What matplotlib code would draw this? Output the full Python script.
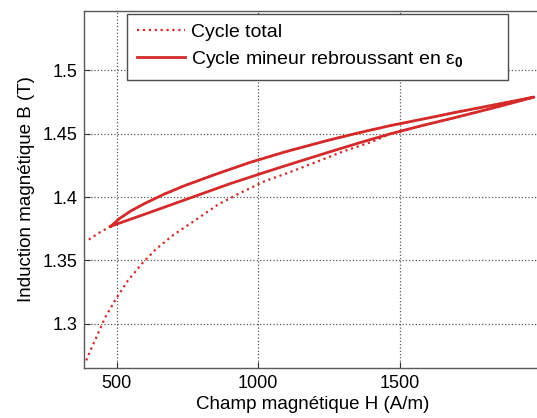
import numpy as np
import matplotlib.pyplot as plt

plt.rcParams['font.family'] = ['Liberation Sans', 'DejaVu Sans']
plt.rcParams['mathtext.fontset'] = 'custom'
plt.rcParams['mathtext.rm'] = 'Liberation Sans'
plt.rcParams['mathtext.it'] = 'Liberation Sans:italic'
plt.rcParams['mathtext.bf'] = 'Liberation Sans:bold'

# Cycle total (dotted): lower branch going up, then upper branch coming back
total_h = [393, 410, 430, 460, 499, 540, 592, 640, 700, 780, 858, 930, 1023, 1110, 1209,
           1300, 1400, 1468, 1580, 1700, 1850, 1975,
           1850, 1700, 1580, 1468, 1360, 1250, 1100, 973, 850, 740, 670, 600, 550, 510,
           480, 440, 399]
total_b = [1.271, 1.280, 1.290, 1.305, 1.320, 1.334, 1.348, 1.359, 1.370, 1.382, 1.394, 1.4025,
           1.4125, 1.4195, 1.428, 1.436, 1.4435, 1.450, 1.4565, 1.463, 1.4715, 1.479,
           1.4735, 1.467, 1.4615, 1.4565, 1.451, 1.445, 1.436, 1.4275, 1.418, 1.409, 1.4025,
           1.395, 1.389, 1.383, 1.377, 1.372, 1.366]

# Cycle mineur: upper branch then lower branch (closed loop)
minor_h = [480, 510, 550, 600, 670, 740, 850, 973, 1100, 1250, 1360, 1468, 1580, 1700, 1850, 1975,
           1850, 1700, 1580, 1468, 1360, 1250, 1100, 1023, 900, 800, 700, 600, 530, 480]
minor_b = [1.377, 1.383, 1.389, 1.395, 1.4025, 1.409, 1.418, 1.4275, 1.436, 1.445, 1.451, 1.4565,
           1.4615, 1.467, 1.4735, 1.479,
           1.4715, 1.463, 1.4565, 1.450, 1.443, 1.4355, 1.425, 1.4195, 1.4105, 1.4025, 1.3945,
           1.3865, 1.381, 1.377]

xticks = [500, 1000, 1500]
yticks = [1.3, 1.35, 1.4, 1.45, 1.5]
ytick_labels = ['1.3', '1.35', '1.4', '1.45', '1.5']

red = '#d42a2a'

fig = plt.figure(figsize=(5.37, 4.18), dpi=100)
ax = fig.add_axes([84 / 537, 50 / 418, 457 / 537, 357 / 418])

ax.plot(total_h, total_b, linestyle=':', color=red, lw=1.6, label='Cycle total')
ax.plot(minor_h, minor_b, linestyle='-', color=red, lw=2.0,
        label='Cycle mineur rebroussant en ε$_\\mathbf{0}$')

ax.set_xlim(385, 2000)
ax.set_ylim(1.265, 1.547)
ax.set_xticks(xticks)
ax.set_yticks(yticks)
ax.set_yticklabels(ytick_labels)
ax.tick_params(direction='in', labelsize=13, length=4, color='0.2', pad=5)
ax.grid(True, linestyle=':', color='0.35', lw=0.9)
for s in ax.spines.values():
    s.set_color('0.35')
    s.set_linewidth(1.0)

ax.set_xlabel('Champ magnétique H (A/m)', fontsize=13.5, labelpad=3)
ax.set_ylabel('Induction magnétique B (T)', fontsize=13.5, labelpad=5)

# legend box stretched to the width it has in the original
leg = ax.legend(loc='upper left', bbox_to_anchor=(0.094, 0.992, 0.834, 0), mode='expand',
                fontsize=14, fancybox=False, framealpha=1, edgecolor='0.3', borderaxespad=0,
                handlelength=2.5, labelspacing=0.4, borderpad=0.5, handletextpad=0.3)
leg.get_frame().set_linewidth(1.0)

fig.savefig('out.png', dpi=100)
